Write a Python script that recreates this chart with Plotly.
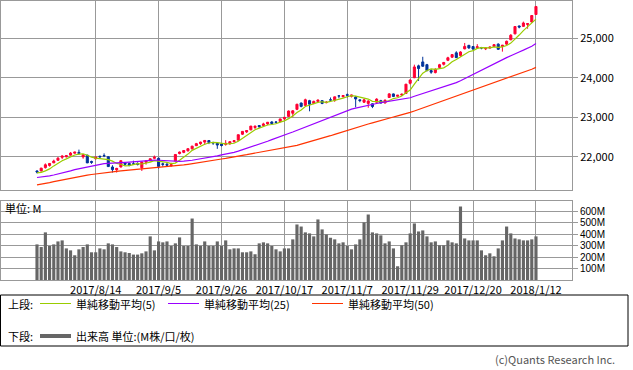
import pandas as pd
import plotly.graph_objects as go
from plotly.subplots import make_subplots

# ---------------- data ----------------
us_holidays = ["2017-09-04", "2017-11-23", "2017-12-25", "2018-01-01"]
trade_days = pd.bdate_range("2017-07-25", "2018-01-12", freq="C", holidays=us_holidays)
dates = [f"{d.year}/{d.month}/{d.day}" for d in trade_days]

tick_labels = ["2017/8/14", "2017/9/5", "2017/9/26", "2017/10/17",
               "2017/11/7", "2017/11/29", "2017/12/20", "2018/1/12"]
price_ticks = [22000, 23000, 24000, 25000]
volume_ticks = [100, 200, 300, 400, 500, 600]
volume_tick_text = ["100M", "200M", "300M", "400M", "500M", "600M"]

open_ = [21640, 21640, 21725, 21780, 21845, 21910, 21985, 22000, 22040, 22090,
         22110, 21995, 22040, 21880, 21950, 22010, 22030, 22000, 21740, 21670,
         21740, 21840, 21830, 21820, 21830, 21720, 21860, 21900, 21960, 21960,
         21820, 21810, 21770, 21890, 22080, 22110, 22150, 22200, 22280, 22330,
         22370, 22410, 22360, 22340, 22320, 22310, 22330, 22380, 22420, 22570,
         22630, 22680, 22740, 22790, 22790, 22830, 22880, 22880, 22890, 22960,
         23020, 23100, 23200, 23360, 23300, 23420, 23350, 23400, 23420, 23370,
         23440, 23430, 23540, 23520, 23570, 23530, 23510, 23440, 23380, 23350,
         23340, 23380, 23420, 23360, 23500, 23590, 23530, 23560, 23600, 23860,
         24000, 24300, 24400, 24330, 24180, 24130, 24260, 24340, 24440, 24520,
         24630, 24560, 24730, 24820, 24790, 24760, 24760, 24730, 24750, 24790,
         24850, 24790, 24850, 24960, 25110, 25310, 25300, 25350, 25410, 25600]
high = [21654, 21720, 21830, 21840, 21925, 21990, 22036, 22044, 22118, 22120,
        22180, 22060, 22050, 21900, 22000, 22030, 22085, 22010, 21785, 21720,
        21910, 21860, 21850, 21900, 21860, 21870, 21900, 21960, 22030, 21980,
        21850, 21840, 21850, 22060, 22130, 22160, 22210, 22275, 22350, 22380,
        22420, 22420, 22380, 22360, 22340, 22420, 22390, 22420, 22560, 22650,
        22670, 22780, 22790, 22800, 22860, 22880, 22900, 22900, 22960, 23000,
        23170, 23180, 23340, 23370, 23470, 23440, 23420, 23450, 23430, 23410,
        23500, 23520, 23560, 23560, 23600, 23570, 23540, 23450, 23460, 23430,
        23350, 23480, 23440, 23450, 23610, 23600, 23560, 23600, 23840, 23960,
        24330, 24330, 24530, 24350, 24220, 24240, 24350, 24400, 24530, 24600,
        24670, 24670, 24880, 24830, 24800, 24850, 24780, 24770, 24790, 24840,
        24870, 24830, 24940, 25105, 25300, 25320, 25420, 25370, 25580, 25810]
low = [21578, 21630, 21700, 21750, 21840, 21900, 21940, 21980, 22030, 22075,
       22050, 21950, 21840, 21820, 21930, 21960, 21990, 21750, 21600, 21600,
       21730, 21780, 21760, 21790, 21780, 21640, 21800, 21880, 21950, 21700,
       21750, 21750, 21750, 21890, 22060, 22090, 22130, 22180, 22270, 22300,
       22300, 22320, 22300, 22200, 22260, 22280, 22300, 22360, 22410, 22550,
       22600, 22670, 22700, 22730, 22770, 22800, 22820, 22840, 22870, 22920,
       23010, 23000, 23180, 23250, 23290, 23150, 23330, 23370, 23330, 23350,
       23420, 23390, 23480, 23500, 23500, 23500, 23250, 23380, 23360, 23240,
       23230, 23370, 23350, 23350, 23490, 23510, 23520, 23540, 23590, 23830,
       23990, 23920, 24280, 24160, 24100, 24110, 24240, 24310, 24420, 24500,
       24500, 24530, 24720, 24730, 24700, 24750, 24720, 24700, 24740, 24780,
       24710, 24660, 24830, 24950, 25100, 25250, 25290, 25240, 25400, 25600]
close = [21613.43, 21711.01, 21796.55, 21830.31, 21891.12, 21963.92, 22016.24, 22026.10, 22092.81, 22118.42,
         22085.34, 22048.70, 21844.01, 21858.32, 21993.71, 21998.99, 22024.87, 21750.73, 21674.51, 21703.75,
         21899.89, 21812.09, 21783.40, 21813.67, 21808.40, 21865.37, 21892.43, 21948.10, 21987.56, 21753.31,
         21807.64, 21784.78, 21797.79, 22057.37, 22118.86, 22158.18, 22203.48, 22268.34, 22331.35, 22370.80,
         22412.59, 22359.23, 22349.59, 22296.09, 22284.32, 22340.71, 22381.20, 22405.09, 22557.60, 22641.67,
         22661.64, 22775.39, 22773.67, 22761.07, 22830.68, 22872.89, 22841.01, 22871.72, 22956.96, 22997.44,
         23157.60, 23163.04, 23328.63, 23273.96, 23441.76, 23329.46, 23400.86, 23434.19, 23348.74, 23377.24,
         23435.01, 23516.26, 23539.19, 23548.42, 23557.23, 23563.36, 23461.94, 23422.21, 23439.70, 23409.47,
         23271.28, 23458.36, 23358.24, 23430.33, 23590.83, 23526.18, 23557.99, 23580.78, 23836.71, 23940.68,
         24272.35, 24231.59, 24290.05, 24180.64, 24140.91, 24211.48, 24329.16, 24386.03, 24504.80, 24585.43,
         24508.66, 24651.74, 24792.20, 24754.75, 24726.65, 24782.29, 24754.06, 24746.21, 24774.30, 24837.51,
         24719.22, 24824.01, 24922.68, 25075.13, 25295.87, 25283.00, 25385.80, 25369.13, 25574.73, 25803.19]
volume = [311, 288, 416, 297, 311, 337, 346, 276, 259, 216,
          268, 288, 311, 242, 242, 276, 268, 320, 311, 288,
          250, 242, 236, 222, 222, 233, 250, 381, 259, 337,
          329, 337, 297, 320, 372, 297, 297, 537, 311, 297,
          337, 297, 297, 337, 297, 346, 268, 276, 276, 242,
          242, 250, 225, 320, 329, 320, 297, 268, 250, 276,
          276, 355, 485, 467, 416, 407, 381, 529, 442, 398,
          369, 355, 320, 329, 297, 268, 311, 355, 503, 572,
          416, 407, 390, 320, 337, 276, 120, 303, 329, 407,
          494, 424, 433, 381, 329, 337, 303, 303, 346, 329,
          320, 642, 363, 346, 346, 346, 259, 216, 233, 207,
          276, 346, 467, 407, 363, 355, 346, 346, 355, 381]
# closes before the visible window (needed for the moving averages)
history_close = [20981.94, 20979.75, 20606.93, 20663.02, 20804.84, 20894.83, 20937.91, 21012.42, 21082.95, 21080.28,
                 21029.47, 21008.65, 21144.18, 21206.29, 21184.04, 21136.23, 21173.69, 21182.53, 21271.97, 21235.67,
                 21328.47, 21374.56, 21359.90, 21384.28, 21528.99, 21467.14, 21410.03, 21397.29, 21394.76, 21409.55,
                 21310.66, 21454.61, 21287.03, 21349.63, 21479.27, 21478.17, 21320.04, 21414.34, 21408.52, 21409.07,
                 21532.14, 21553.09, 21637.74, 21629.72, 21574.73, 21640.75, 21611.78, 21580.07, 21513.17]

ma_periods = [5, 25, 50]
ma_colors = ["#99CC00", "#9900FF", "#FF3300"]

all_close = pd.Series(history_close + close)
ma = {p: all_close.rolling(p).mean().iloc[len(history_close):].tolist() for p in ma_periods}

# ---------------- layout helpers ----------------
W, H = 633, 370
ML, MR, MT, MB = 1, 61, 1, 90
PW, PH = W - ML - MR, H - MT - MB


def px(x):
    return (x - ML) / PW


def py(y):
    return (H - MB - y) / PH


GRID = "#999999"
FONT = "Noto Sans CJK JP"

fig = make_subplots(rows=2, cols=1, shared_xaxes=True)

fig.add_trace(go.Candlestick(
    x=dates, open=open_, high=high, low=low, close=close,
    increasing=dict(line=dict(color="#FF0033", width=1), fillcolor="#FF0033"),
    decreasing=dict(line=dict(color="#003399", width=1), fillcolor="#003399"),
    whiskerwidth=0, showlegend=False, name="DJIA"), row=1, col=1)

for p, c in zip(ma_periods, ma_colors):
    fig.add_trace(go.Scatter(x=dates, y=ma[p], mode="lines",
                             line=dict(color=c, width=1.2), showlegend=False,
                             name=f"MA{p}"), row=1, col=1)

fig.add_trace(go.Bar(x=dates, y=volume, marker=dict(color="#666666", line=dict(width=0)),
                     showlegend=False, name="Volume"), row=2, col=1)

x_range = [(ML - 37.0) / 4.193, (ML + PW - 37.0) / 4.193]

axis_common = dict(showline=True, mirror=True, linecolor=GRID, linewidth=1,
                   showgrid=True, gridcolor=GRID, gridwidth=1, zeroline=False)

fig.update_xaxes(type="category", range=x_range, tickmode="array",
                 tickvals=tick_labels, ticktext=tick_labels, ticks="",
                 rangeslider=dict(visible=False), **axis_common)
fig.update_xaxes(showticklabels=False, row=1, col=1)
fig.update_xaxes(showticklabels=True, tickfont=dict(size=11, color="#000000"), row=2, col=1)

fig.update_yaxes(side="right", range=[21158, 25942], tickmode="array",
                 tickvals=price_ticks, tickformat=",", ticks="outside", ticklen=5,
                 tickcolor=GRID, tickfont=dict(size=11, color="#000000"),
                 domain=[py(190), 1], **axis_common, row=1, col=1)
fig.update_yaxes(side="right", range=[0, 690], tickmode="array",
                 tickvals=volume_ticks, ticktext=volume_tick_text, ticks="outside",
                 ticklen=5, tickcolor=GRID,
                 tickfont=dict(size=10, color="#000000", family="Liberation Sans"),
                 domain=[0, py(201)], **axis_common, row=2, col=1)

shapes = [
    dict(type="rect", xref="paper", yref="paper", x0=px(0.5), x1=px(628), y0=py(295), y1=py(346),
         line=dict(color="#000000", width=1), fillcolor="rgba(0,0,0,0)"),
]
legend_lines = [(40, 71, 303.5, "#99CC00", 1), (168, 199, 303.5, "#9900FF", 1),
                (312, 343, 303.5, "#FF3300", 1), (40, 71, 336, "#666666", 4)]
for x0, x1, yy, col, wd in legend_lines:
    shapes.append(dict(type="line", xref="paper", yref="paper", x0=px(x0), x1=px(x1),
                       y0=py(yy), y1=py(yy), line=dict(color=col, width=wd)))

texts = [
    ("上段:", 7, 303.5, "left", "#000000"),
    ("単純移動平均(5)", 75, 303.5, "left", "#000000"),
    ("単純移動平均(25)", 203, 303.5, "left", "#000000"),
    ("単純移動平均(50)", 347, 303.5, "left", "#000000"),
    ("下段:", 7, 336, "left", "#000000"),
    ("出来高 単位:(M株/口/枚)", 75, 336, "left", "#000000"),
    ("単位: M", 4, 208, "left", "#000000"),
    ("(c)Quants Research Inc.", 616, 359, "right", "#555555"),
]
annotations = []
for t, x, y, anc, col in texts:
    annotations.append(dict(text=t, xref="paper", yref="paper", x=px(x), y=py(y),
                            xanchor=anc, yanchor="middle", showarrow=False,
                            font=dict(size=11, color=col, family=FONT), borderpad=0))

fig.update_layout(
    width=W, height=H, margin=dict(l=ML, r=MR, t=MT, b=MB),
    paper_bgcolor="#FFFFFF", plot_bgcolor="#FFFFFF",
    font=dict(family=FONT, size=11, color="#000000"),
    bargap=0.25, showlegend=False, shapes=shapes, annotations=annotations,
    hovermode=False,
)

fig.write_html("out.html", config={"displayModeBar": False},
               post_script="document.body.style.margin='0px';document.body.style.padding='0px';")
